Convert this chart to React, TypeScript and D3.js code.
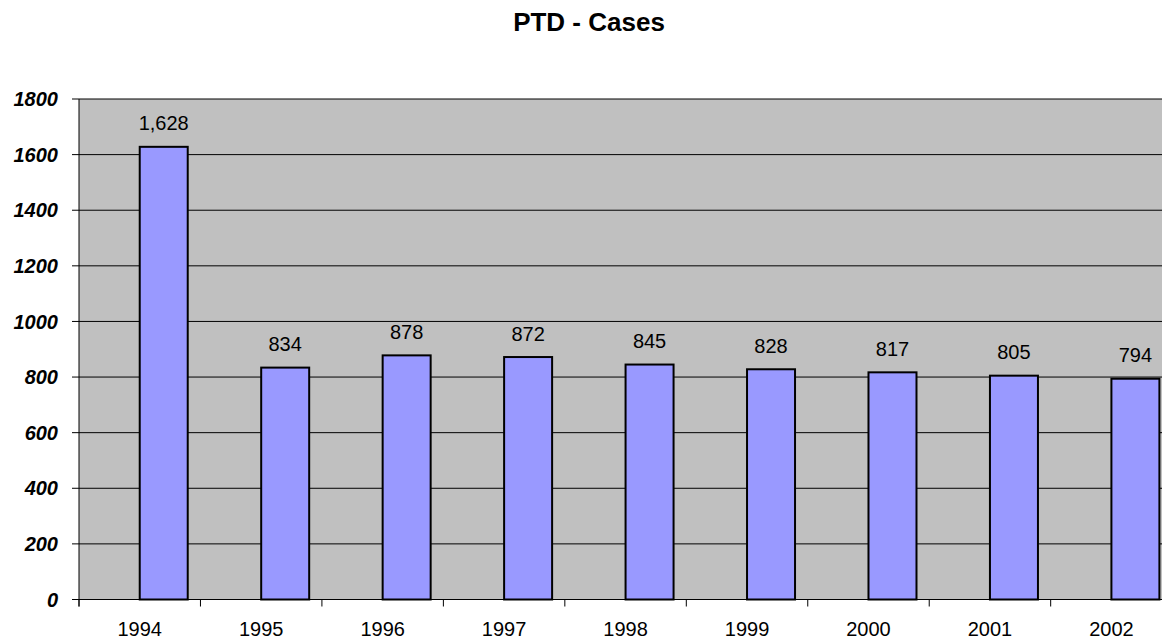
import React from 'react'
import * as d3 from 'd3'

const years = ['1994', '1995', '1996', '1997', '1998', '1999', '2000', '2001', '2002']
const cases = [1628, 834, 878, 872, 845, 828, 817, 805, 794]
const yTicks = [0, 200, 400, 600, 800, 1000, 1200, 1400, 1600, 1800]

export default function App() {
  const width = 1162
  const height = 644
  const left = 79
  const bandW = 121.46
  const top = 99
  const bottom = 599.5

  const x = d3.scaleBand<string>()
    .domain(years)
    .range([left, left + bandW * years.length])
    .padding(0)
  const y = d3.scaleLinear().domain([0, 1800]).range([bottom, top])
  const fmt = d3.format(',')
  const barW = 48

  return (
    <svg width={width} height={height}
      style={{ position: 'absolute', left: 0, top: 0, display: 'block', background: '#fff' }}
      fontFamily="Arial, 'Liberation Sans', sans-serif">
      <text x={589} y={31} textAnchor="middle" fontSize={26} fontWeight="bold">PTD - Cases</text>

      {/* plot area */}
      <rect x={left} y={top} width={width - left} height={bottom - top} fill="#c0c0c0" />

      {/* grid */}
      {yTicks.map(t => (
        <g key={t}>
          <line x1={left - 7} x2={width} y1={y(t)} y2={y(t)} stroke="#000" strokeWidth={1} />
          <text x={58} y={y(t)} dy="0.36em" textAnchor="end" fontSize={20}
            fontWeight="bold" fontStyle="italic">{t}</text>
        </g>
      ))}

      {/* bars */}
      {years.map((yr, i) => {
        const bx = (x(yr) as number) + x.bandwidth() / 2
        return (
          <g key={yr}>
            <rect x={bx} y={y(cases[i])} width={barW} height={bottom - y(cases[i])}
              fill="#9999ff" stroke="#000" strokeWidth={2} />
            <text x={bx + barW / 2} y={y(cases[i]) - 16.5} textAnchor="middle" fontSize={20}>
              {fmt(cases[i])}
            </text>
          </g>
        )
      })}

      {/* axes */}
      <line x1={left} x2={left} y1={top} y2={bottom + 7} stroke="#000" strokeWidth={1} />
      <line x1={left} x2={width} y1={bottom} y2={bottom} stroke="#000" strokeWidth={1} />
      {years.map(yr => (
        <g key={'t' + yr}>
          <line x1={x(yr)} x2={x(yr)} y1={bottom} y2={bottom + 7} stroke="#000" />
          <text x={(x(yr) as number) + x.bandwidth() / 2} y={636} textAnchor="middle" fontSize={20}>{yr}</text>
        </g>
      ))}
    </svg>
  )
}
